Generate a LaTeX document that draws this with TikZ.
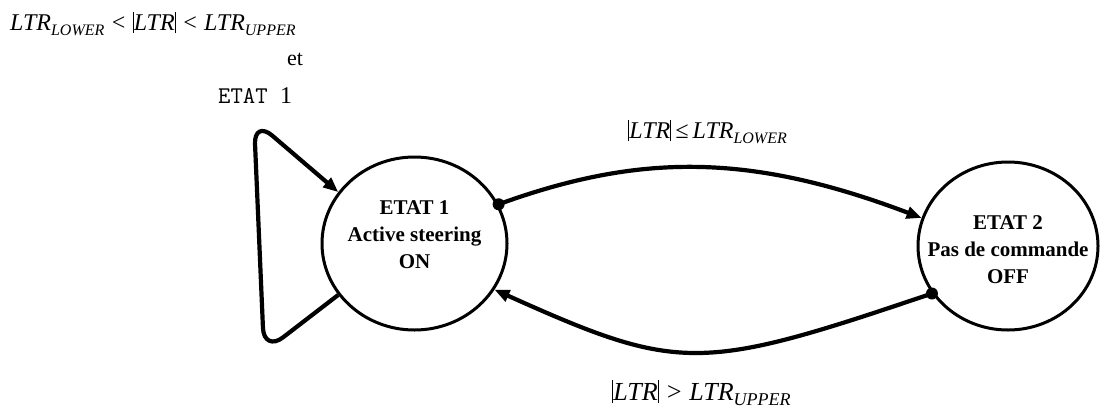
\documentclass[tikz,border=0pt]{standalone}
\usepackage{fontspec}
\setmainfont{Liberation Serif}
\usetikzlibrary{arrows.meta,shapes.geometric}
\newcommand{\lsub}[2][16]{\raisebox{-5pt}{\fontsize{#1}{#1}\selectfont\itshape #2}}
\newcommand{\vb}[1][21pt]{\rule[-3pt]{1.2pt}{#1}}
\begin{document}
\begin{tikzpicture}[x=1pt,y=-1pt,
  state/.style={draw,ellipse,line width=3pt,inner sep=0pt},
  stext/.style={align=center,inner sep=0pt,font=\fontsize{21}{27}\selectfont\bfseries},
  trans/.style={line width=4.2pt,-{Triangle[length=15pt,width=12pt]}},
  lbl/.style={inner sep=0pt,anchor=base west,font=\fontsize{24}{28}\selectfont\itshape},
  dot/.style={fill=black}]
\useasboundingbox (0,0) rectangle (1100,418);

\node[state,minimum width=185pt,minimum height=173pt] (e1) at (414.5,243.5) {};
\node[stext] (e1t) at (414.5,235) {ETAT 1\\Active steering\\ON};
\node[state,minimum width=180pt,minimum height=168pt] (e2) at (1008,246) {};
\node[stext] (e2t) at (1008,250) {ETAT 2\\Pas de commande\\OFF};

\draw[trans] (e1.25) .. controls (640,153) and (750,153) .. (e2.162);
\fill[dot] (e1.25) circle[radius=6];
\draw[trans] (e2.212) .. controls (700,372) and (680,373) .. (e1.330);
\fill[dot] (e2.212) circle[radius=6];
\draw[trans,rounded corners=24pt] (e1.214) -- (264,352) -- (254,120) -- (e1.146);

\node[lbl] (cond) at (10,30) {LTR\lsub{LOWER} < \vb LTR\vb{} < LTR\lsub{UPPER}};
\node[anchor=base west,inner sep=0pt,font=\fontsize{22}{26}\selectfont] (et) at (287,65) {et};
\node[anchor=base west,inner sep=0pt] (etat) at (218,103) {\ttfamily\fontsize{24}{28}\selectfont ETAT\ {\rmfamily\fontsize{24}{28}\selectfont 1}};

\node[lbl] (l1) at (628,138) {\vb LTR\vb\,≤\,LTR\lsub{LOWER}};
\node[lbl,font=\fontsize{26}{30}\selectfont\itshape] (l2) at (612,400) {\vb[23pt]LTR\vb[23pt]\ > LTR\lsub[18]{UPPER}};
\end{tikzpicture}
\end{document}
